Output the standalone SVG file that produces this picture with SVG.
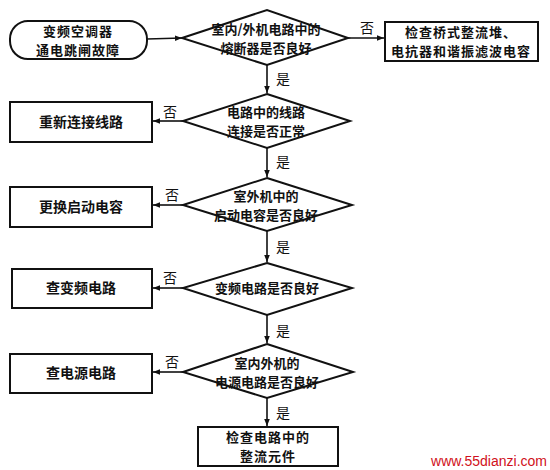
<svg xmlns="http://www.w3.org/2000/svg" width="550" height="470" viewBox="0 0 550 470">
<defs>
<marker id="ah" viewBox="0 0 10 10" refX="10" refY="5" markerWidth="7" markerHeight="7" markerUnits="userSpaceOnUse" orient="auto"><path d="M0,1 L10,5 L0,9 Z" fill="#111"/></marker>
<style>
.s{fill:#fff;stroke:#111;stroke-width:2}
.t{font-family:"Noto Sans CJK SC","Noto Sans",sans-serif;font-size:14px;font-weight:bold;fill:#111;text-anchor:middle}
.d{font-size:13px}
.m{font-size:13px;letter-spacing:1px}
.l{font-family:"Noto Sans CJK SC","Noto Sans",sans-serif;font-size:14px;fill:#111;text-anchor:middle}
.c{fill:none;stroke:#111;stroke-width:1.6;marker-end:url(#ah)}
</style>
</defs>
<rect width="550" height="470" fill="#fff"/>
<g id="connectors">
<path class="c" d="M147,39 L182,38"/>
<path class="c" d="M348,38 L384,38"/>
<path class="c" d="M267,65 L267,93"/>
<path class="c" d="M183,121 L153,121"/>
<path class="c" d="M267,148 L267,177"/>
<path class="c" d="M183,205 L153,205"/>
<path class="c" d="M267,230 L267,262"/>
<path class="c" d="M183,288 L153,288"/>
<path class="c" d="M267,315 L267,343"/>
<path class="c" d="M183,372 L153,372"/>
<path class="c" d="M267,398 L267,426"/>
<text class="l" x="367" y="33">否</text>
<text class="l" x="283" y="84">是</text>
<text class="l" x="170" y="117">否</text>
<text class="l" x="283" y="167">是</text>
<text class="l" x="172" y="200">否</text>
<text class="l" x="283" y="252">是</text>
<text class="l" x="170" y="283">否</text>
<text class="l" x="283" y="336">是</text>
<text class="l" x="172" y="367">否</text>
<text class="l" x="283" y="418">是</text>
</g>
<g id="start">
<rect class="s" x="10" y="21" width="137" height="38" rx="18"/>
<text class="t m" x="78" y="35.5">变频空调器</text>
<text class="t m" x="78" y="54.5">通电跳闸故障</text>
</g>
<g id="d1">
<polygon class="s" points="182,38 267,10 348,38 267,65"/>
<text class="t d" x="266" y="33.5">室内/外机电路中的</text>
<text class="t d" x="266" y="52.5">熔断器是否良好</text>
</g>
<g id="b1">
<rect class="s" x="385" y="22" width="153" height="39"/>
<text class="t m" x="461" y="37">检查桥式整流堆、</text>
<text class="t m" x="461" y="56">电抗器和谐振滤波电容</text>
</g>
<g id="d2">
<polygon class="s" points="267,94 350,121 267,148 183,121"/>
<text class="t d" x="266" y="116.5">电路中的线路</text>
<text class="t d" x="266" y="135.5">连接是否正常</text>
</g>
<g id="b2">
<rect class="s" x="10" y="102" width="142" height="40"/>
<text class="t" x="81" y="127">重新连接线路</text>
</g>
<g id="d3">
<polygon class="s" points="267,178 352,205 267,231 183,205"/>
<text class="t d" x="266" y="200.5">室外机中的</text>
<text class="t d" x="266" y="219.5">启动电容是否良好</text>
</g>
<g id="b3">
<rect class="s" x="10" y="187" width="142" height="40"/>
<text class="t" x="81" y="212">更换启动电容</text>
</g>
<g id="d4">
<polygon class="s" points="267,263 352,288 267,315 183,288"/>
<text class="t d" x="267" y="293">变频电路是否良好</text>
</g>
<g id="b4">
<rect class="s" x="12" y="269" width="140" height="39"/>
<text class="t" x="81" y="293">查变频电路</text>
</g>
<g id="d5">
<polygon class="s" points="267,344 353,372 267,398 183,372"/>
<text class="t d" x="267" y="367.5">室内外机的</text>
<text class="t d" x="267" y="386.5">电源电路是否良好</text>
</g>
<g id="b5">
<rect class="s" x="10" y="354" width="142" height="39"/>
<text class="t" x="81" y="378">查电源电路</text>
</g>
<g id="end">
<rect class="s" x="198" y="427" width="140" height="39"/>
<text class="t m" x="268" y="442">检查电路中的</text>
<text class="t m" x="268" y="461">整流元件</text>
</g>
<text x="547" y="466" font-family="'Liberation Sans',Arial,sans-serif" font-size="14" fill="#d01020" text-anchor="end">www.55dianzi.com</text>
</svg>
